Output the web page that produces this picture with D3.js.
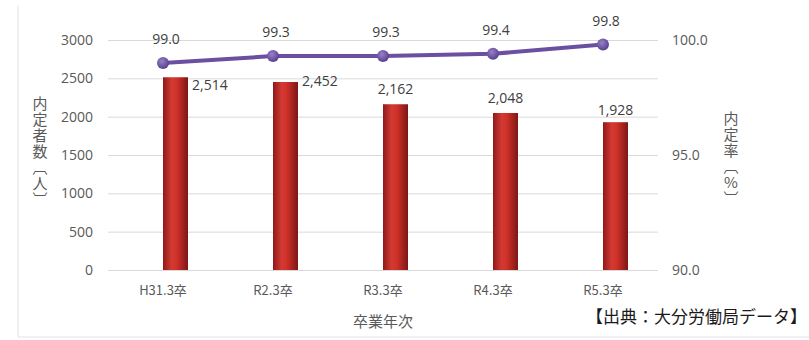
<!DOCTYPE html>
<meta charset="utf-8">
<script src="https://cdn.jsdelivr.net/npm/d3@7"></script>
<style>
body { margin: 0; background: #fff; }
text { font-family: "Open Sans", "Noto Sans CJK JP", sans-serif; }
.jp { font-family: "Noto Sans CJK JP", sans-serif; }
</style>
<body>
<script>

var categories = ["H31.3卒", "R2.3卒", "R3.3卒", "R4.3卒", "R5.3卒"];
var hired = [2514, 2452, 2162, 2048, 1928];
var rate = [99.0, 99.3, 99.3, 99.4, 99.8];
var leftTicks = [0, 500, 1000, 1500, 2000, 2500, 3000];
var rightTicks = [90, 95, 100];

var width = 809, height = 340;

var svg = d3.select("body").append("svg")
    .attr("width", width)
    .attr("height", height);

// gradients for bars and markers
var defs = svg.append("defs");
var bg = defs.append("linearGradient").attr("id", "barGrad")
    .attr("x1", "0").attr("x2", "1").attr("y1", "0").attr("y2", "0");
bg.append("stop").attr("offset", "0%").attr("stop-color", "#8e1a1a");
bg.append("stop").attr("offset", "35%").attr("stop-color", "#d43a32");
bg.append("stop").attr("offset", "55%").attr("stop-color", "#cf3128");
bg.append("stop").attr("offset", "100%").attr("stop-color", "#7e1616");

var mg = defs.append("radialGradient").attr("id", "dotGrad")
    .attr("cx", "40%").attr("cy", "35%").attr("r", "65%");
mg.append("stop").attr("offset", "0%").attr("stop-color", "#9a80c8");
mg.append("stop").attr("offset", "100%").attr("stop-color", "#58408e");

// chart border
svg.append("path")
    .attr("d", "M18,5 V337 H809")
    .attr("fill", "none")
    .attr("stroke", "#e2e2e2");

var x = d3.scaleBand()
    .domain(categories)
    .range([108, 658])
    .paddingInner(0).paddingOuter(0);

var y = d3.scaleLinear().domain([0, 3000]).range([270, 40]);
var y2 = d3.scaleLinear().domain([90, 100]).range([270, 40]);

// gridlines + left labels
var yAxis = svg.append("g")
    .attr("transform", "translate(108,0)")
    .call(d3.axisLeft(y).tickValues(leftTicks).tickSize(-550).tickPadding(15)
        .tickFormat(d3.format("d")));
yAxis.select(".domain").remove();
yAxis.selectAll(".tick line").attr("stroke", "#d9d9d9");
yAxis.selectAll(".tick text").attr("fill", "#595959").style("font-size", "14px");

// right labels
var y2Axis = svg.append("g")
    .attr("transform", "translate(658,0)")
    .call(d3.axisRight(y2).tickValues(rightTicks).tickSize(0).tickPadding(14)
        .tickFormat(d3.format(".1f")));
y2Axis.select(".domain").remove();
y2Axis.selectAll(".tick text").attr("fill", "#595959").style("font-size", "14px");

// x labels
var xAxis = svg.append("g")
    .attr("transform", "translate(0,270)")
    .call(d3.axisBottom(x).tickSize(0).tickPadding(16));
xAxis.select(".domain").remove();
xAxis.selectAll(".tick text").attr("fill", "#595959")
    .attr("class", "jp").style("font-size", "13px");

// bars
var barW = 25;
svg.append("g").selectAll("rect")
    .data(hired)
    .enter().append("rect")
    .attr("x", function(d, i) { return x(categories[i]) + x.bandwidth() / 2; })
    .attr("y", function(d) { return y(d); })
    .attr("width", barW)
    .attr("height", function(d) { return y(0) - y(d); })
    .attr("fill", "url(#barGrad)");

// bar labels
var fmt = d3.format(",");
var labelPos = [
  {dx: 1, dy: 8}, {dx: 1, dy: -1}, {dx: 0, dy: -15}, {dx: 0, dy: -15}, {dx: 0, dy: -12}
];
svg.append("g").selectAll("text")
    .data(hired)
    .enter().append("text")
    .attr("x", function(d, i) {
      var cx = x(categories[i]) + x.bandwidth() / 2 + barW / 2;
      return labelPos[i].dx ? cx + barW / 2 + 4 : cx;
    })
    .attr("y", function(d, i) { return y(d) + labelPos[i].dy; })
    .attr("text-anchor", function(d, i) { return labelPos[i].dx ? "start" : "middle"; })
    .attr("dy", "0.35em")
    .attr("fill", "#404040")
    .style("font-size", "14px")
    .text(function(d) { return fmt(d); });

// rate line
var line = d3.line()
    .x(function(d, i) { return x(categories[i]) + x.bandwidth() / 2; })
    .y(function(d) { return y2(d); });
svg.append("path")
    .datum(rate)
    .attr("d", line)
    .attr("fill", "none")
    .attr("stroke", "#6b4fa0")
    .attr("stroke-width", 4);

svg.append("g").selectAll("circle")
    .data(rate)
    .enter().append("circle")
    .attr("cx", function(d, i) { return x(categories[i]) + x.bandwidth() / 2; })
    .attr("cy", function(d) { return y2(d); })
    .attr("r", 6)
    .attr("fill", "url(#dotGrad)");

svg.append("g").selectAll("text")
    .data(rate)
    .enter().append("text")
    .attr("x", function(d, i) { return x(categories[i]) + x.bandwidth() / 2 + 3; })
    .attr("y", function(d) { return y2(d) - 24; })
    .attr("text-anchor", "middle")
    .attr("dy", "0.35em")
    .attr("fill", "#404040")
    .style("font-size", "14px")
    .text(function(d) { return d.toFixed(1); });

// axis titles
svg.append("text")
    .attr("class", "jp")
    .attr("x", 40).attr("y", 96)
    .style("writing-mode", "vertical-rl")
    .style("text-orientation", "upright")
    .style("font-size", "15px")
    .style("letter-spacing", "1px")
    .attr("fill", "#595959")
    .text("内定者数〔人〕");

svg.append("text")
    .attr("class", "jp")
    .attr("x", 731).attr("y", 111)
    .style("writing-mode", "vertical-rl")
    .style("text-orientation", "upright")
    .style("font-size", "15px")
    .style("letter-spacing", "1px")
    .attr("fill", "#595959")
    .text("内定率〔%〕");

svg.append("text")
    .attr("class", "jp")
    .attr("x", 383).attr("y", 322)
    .attr("text-anchor", "middle")
    .attr("dy", "0.35em")
    .style("font-size", "15px")
    .attr("fill", "#595959")
    .text("卒業年次");

svg.append("text")
    .attr("class", "jp")
    .attr("x", 807).attr("y", 323)
    .attr("text-anchor", "end")
    .style("font-size", "17px")
    .attr("fill", "#1a1a1a")
    .text("【出典：大分労働局データ】");

</script>
</body>
